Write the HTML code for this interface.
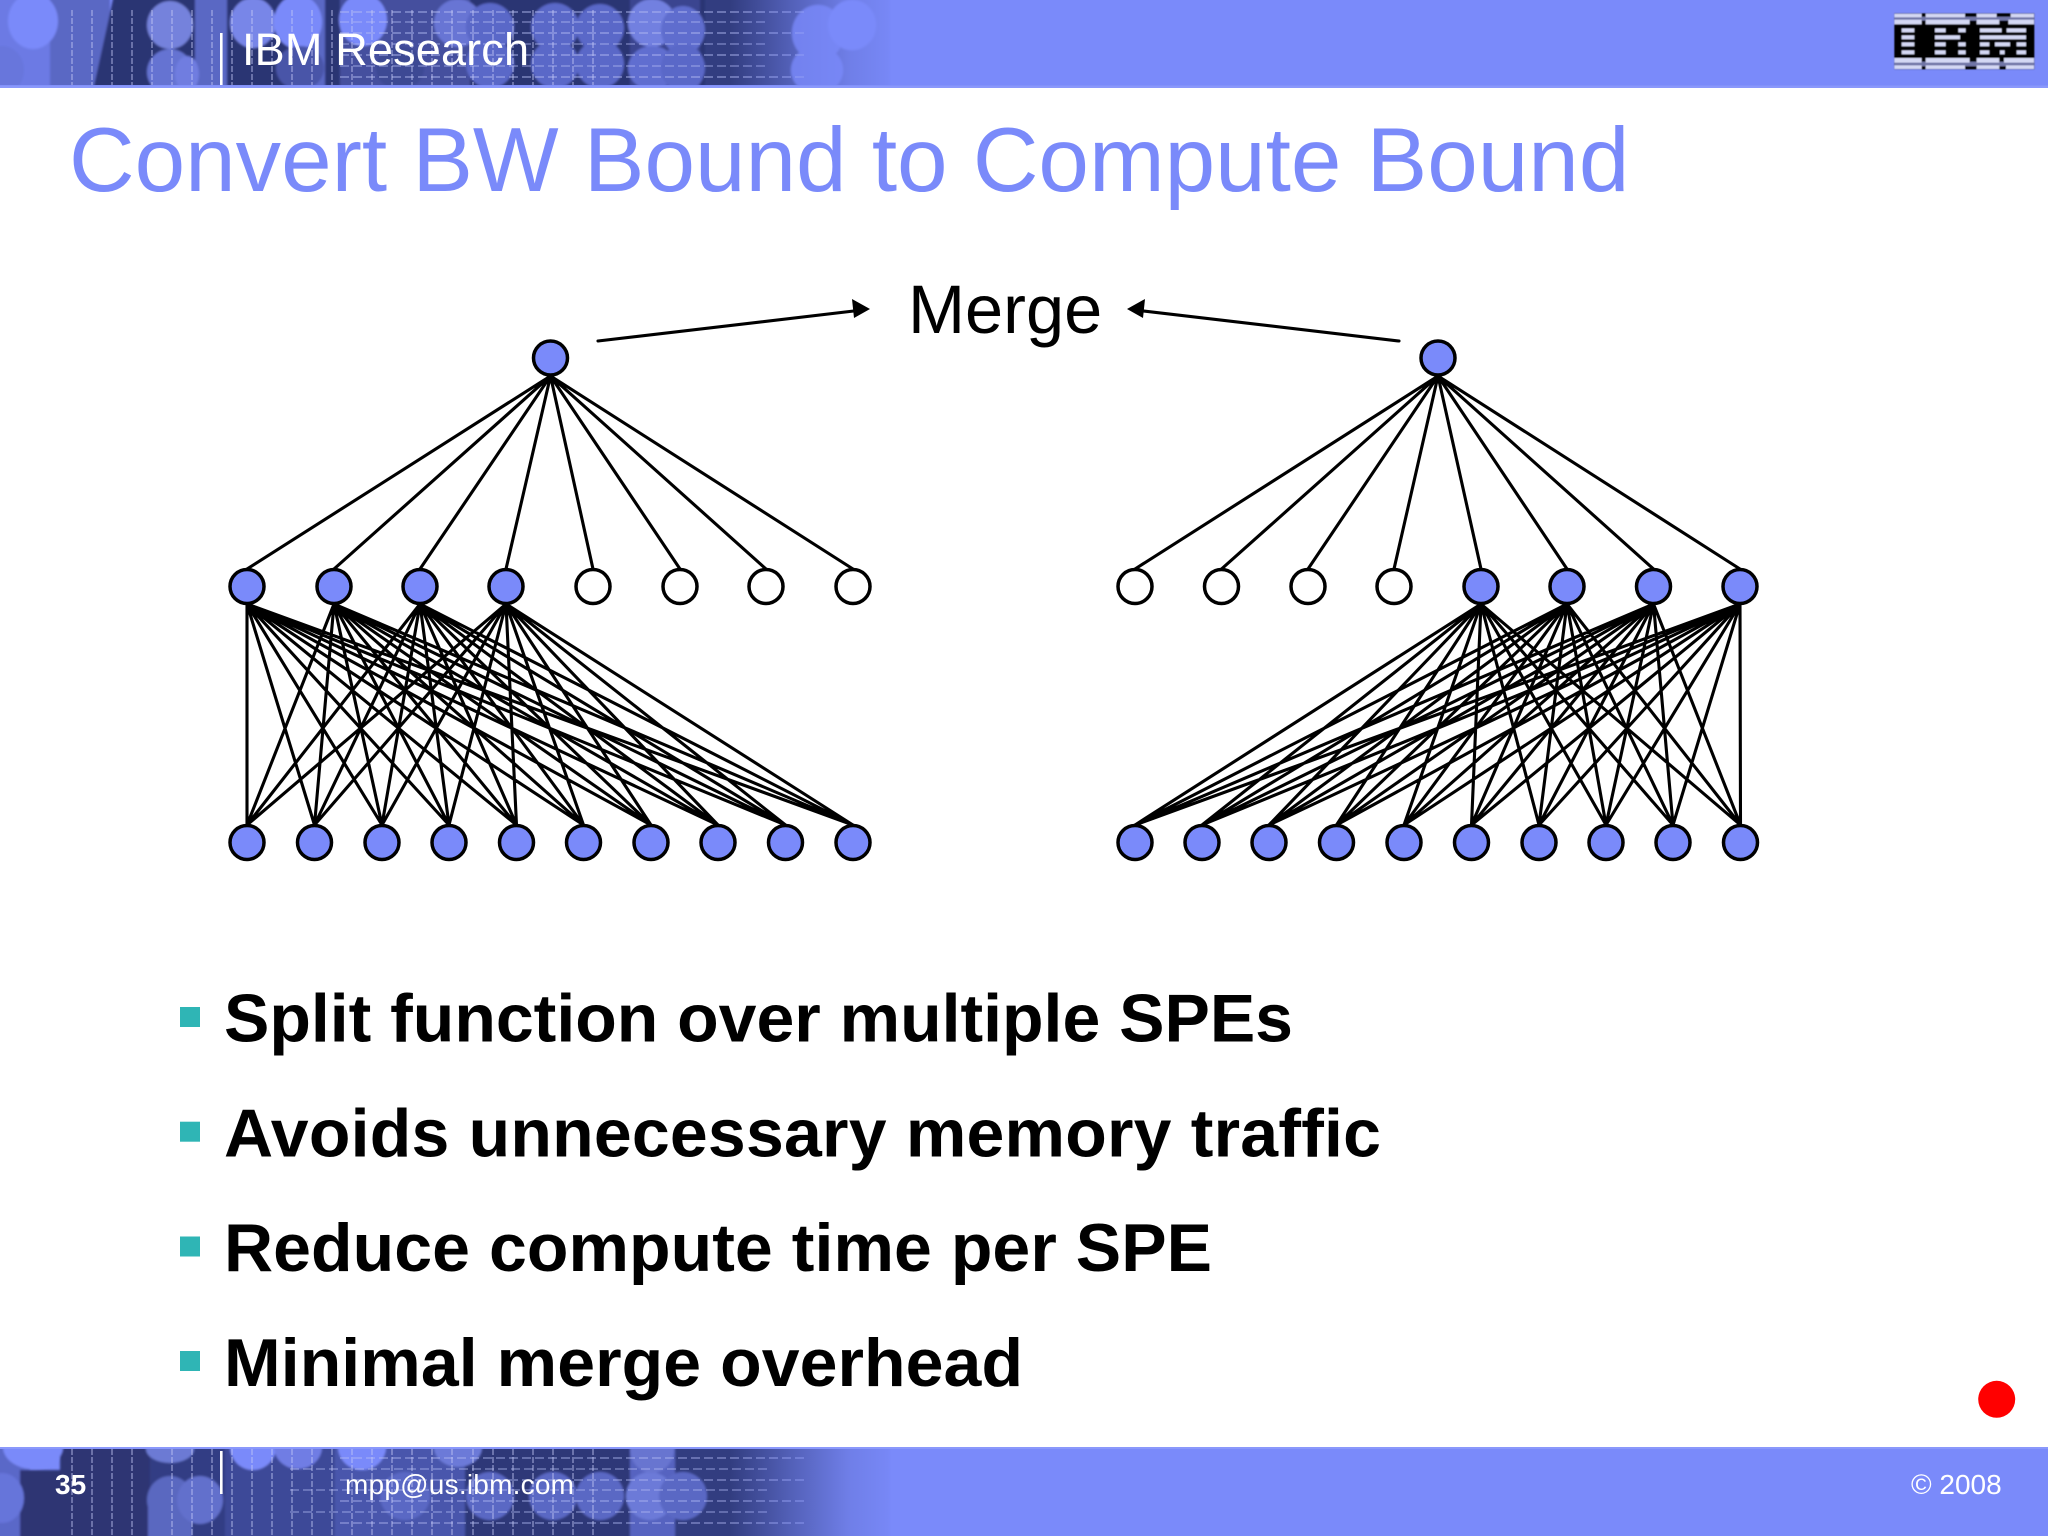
<!DOCTYPE html>
<html lang="en">
<head>
<meta charset="utf-8">
<title>Convert BW Bound to Compute Bound</title>
<style>
html,body{margin:0;padding:0;width:2048px;height:1536px;overflow:hidden;background:#fff}
svg{display:block}
text{font-family:"Liberation Sans",Arial,sans-serif}
.n{fill:#7a8afa;stroke:#000;stroke-width:3.5}
.o{fill:#fff;stroke:#000;stroke-width:3.5}
.e{fill:none;stroke:#000;stroke-width:3.1;stroke-linecap:round}
.b{font-size:68px;font-weight:bold;fill:#000}
.f{font-size:28px;fill:#fff}
</style>
</head>
<body>
<svg xmlns="http://www.w3.org/2000/svg" width="2048" height="1536" viewBox="0 0 2048 1536">
<defs>
<linearGradient id="fade" x1="0" x2="1" y1="0" y2="0">
<stop offset="0" stop-color="#7a8afa" stop-opacity="0"/>
<stop offset=".35" stop-color="#7a8afa" stop-opacity=".45"/>
<stop offset=".7" stop-color="#7a8afa" stop-opacity=".85"/>
<stop offset="1" stop-color="#7a8afa"/>
</linearGradient>
<clipPath id="hc"><rect x="0" y="0" width="2048" height="85"/></clipPath>
<clipPath id="fc"><rect x="0" y="1449" width="2048" height="87"/></clipPath>
<filter id="soft" x="-2%" y="-10%" width="104%" height="120%"><feGaussianBlur stdDeviation="1"/></filter>
<filter id="soft2" x="-5%" y="-5%" width="110%" height="110%"><feGaussianBlur stdDeviation="1.6"/></filter>
</defs>

<rect width="2048" height="1536" fill="#fff"/>

<!-- header band -->
<rect x="0" y="0" width="2048" height="88" fill="#7a8afa"/>
<g clip-path="url(#hc)">
<g filter="url(#soft)">
  <rect x="-10" y="-10" width="60" height="105" fill="#6c7ae4"/>
  <rect x="50" y="-10" width="60" height="105" fill="#5a68c4"/>
  <path d="M115 -10L155 -10L155 95L92 95Z" fill="#2b3473"/>
  <rect x="155" y="-10" width="735" height="105" fill="#2b3473"/>
  <rect x="195" y="-10" width="32" height="105" fill="#5a68c4"/>
  <rect x="290" y="-10" width="35" height="105" fill="#5a68c4"/>
  <rect x="340" y="-10" width="130" height="105" fill="#454f9e"/>
  <rect x="630" y="-10" width="70" height="105" fill="#3a4490"/>
  <rect x="705" y="-10" width="185" height="105" fill="#333c80"/>
  <ellipse cx="33" cy="21" rx="25" ry="28" fill="#7a8afa"/>
  <ellipse cx="2" cy="70" rx="22" ry="24" fill="#6876dc"/>
  <ellipse cx="170" cy="25" rx="23" ry="24" fill="#7482dc"/>
  <ellipse cx="170" cy="72" rx="23" ry="23" fill="#6573d2"/>
  <ellipse cx="187" cy="74" rx="12" ry="18" fill="#6f7de0"/>
  <ellipse cx="253" cy="23" rx="23" ry="25" fill="#7886e8"/>
  <ellipse cx="298" cy="22" rx="24" ry="27" fill="#7a8afa"/>
  <ellipse cx="363" cy="20" rx="24" ry="26" fill="#7a8afa"/>
  <ellipse cx="458" cy="23" rx="24" ry="24" fill="#6875d4"/>
  <ellipse cx="300" cy="68" rx="24" ry="22" fill="#4a55a8"/>
  <ellipse cx="400" cy="68" rx="24" ry="22" fill="#3e4894"/>
  <ellipse cx="490" cy="27" rx="24" ry="24" fill="#5a68c8"/>
  <ellipse cx="555" cy="27" rx="24" ry="24" fill="#5a68c8"/>
  <ellipse cx="600" cy="28" rx="24" ry="24" fill="#5a68c8"/>
  <ellipse cx="490" cy="64" rx="24" ry="24" fill="#5a68c8"/>
  <ellipse cx="555" cy="64" rx="24" ry="24" fill="#5a68c8"/>
  <ellipse cx="600" cy="64" rx="24" ry="24" fill="#5a68c8"/>
  <ellipse cx="652" cy="23" rx="24" ry="24" fill="#7280e0"/>
  <ellipse cx="683" cy="30" rx="22" ry="24" fill="#5f6dce"/>
  <ellipse cx="652" cy="68" rx="24" ry="22" fill="#606ed0"/>
  <ellipse cx="683" cy="68" rx="22" ry="24" fill="#5a68c8"/>
  <ellipse cx="818" cy="33" rx="26" ry="28" fill="#6c7ae4"/>
  <ellipse cx="817" cy="70" rx="26" ry="24" fill="#6c7ae4"/>
  <ellipse cx="852" cy="25" rx="24" ry="25" fill="#7a8afa"/>
</g>
  <path d="M340 12H808M340 33H808M340 55H808M340 77H808" stroke="#b4bcf4" stroke-width="1.6" stroke-dasharray="9 4" fill="none" opacity=".6"/>
  <path d="M340 22H767M340 44H767M340 66H767" stroke="#b4bcf4" stroke-width="1.6" stroke-dasharray="9 4" fill="none" opacity=".5"/>
  <path d="M72 10V85M92 10V85M112 10V85M132 10V85M152 10V85M172 10V85M192 10V85M212 10V85M232 10V85M252 10V85M272 10V85M292 10V85M312 10V85M332 10V85M352 10V85M372 10V85M392 10V85M412 10V85M432 10V85M452 10V85M473 10V85M493 10V85M513 10V85M533 10V85M553 10V85M573 10V85M593 10V85" stroke="#c4caf6" stroke-width="1.5" stroke-dasharray="6 2" fill="none" opacity=".55"/>
  <rect x="730" y="0" width="170" height="85" fill="url(#fade)"/>
</g>
<rect x="0" y="85.5" width="2048" height="2.5" fill="#8a98fb"/>
<rect x="220" y="33" width="2.6" height="52" fill="#fff"/>
<text x="242" y="65" font-size="45" fill="#fff" textLength="287" lengthAdjust="spacing">IBM Research</text>

<!-- IBM logo -->
<g transform="translate(1800 0) scale(.3333)" filter="url(#soft2)">
  <rect x="283" y="40" width="420" height="168" fill="#000"/>
  <rect x="283" y="50" width="420" height="12" fill="#6f74a6"/>
  <rect x="283" y="185" width="420" height="14" fill="#6f74a6"/>
  <g fill="#d4d8f4">
    <rect x="283" y="41" width="82" height="11"/><rect x="377" y="41" width="118" height="11"/><rect x="530" y="41" width="60" height="11"/><rect x="632" y="41" width="70" height="11"/>
    <rect x="283" y="59" width="82" height="14"/><rect x="377" y="59" width="132" height="14"/><rect x="530" y="59" width="68" height="14"/><rect x="625" y="59" width="77" height="14"/>
    <rect x="305" y="85" width="38" height="12"/><rect x="405" y="85" width="32" height="12"/><rect x="475" y="85" width="22" height="12"/><rect x="540" y="85" width="65" height="12"/><rect x="620" y="85" width="58" height="12"/>
    <rect x="305" y="106" width="38" height="12"/><rect x="405" y="106" width="75" height="12"/><rect x="540" y="106" width="138" height="12"/>
    <rect x="305" y="127" width="38" height="12"/><rect x="405" y="127" width="32" height="12"/><rect x="475" y="127" width="22" height="12"/><rect x="540" y="127" width="28" height="12"/><rect x="585" y="127" width="45" height="12"/><rect x="650" y="127" width="28" height="12"/>
    <rect x="305" y="151" width="38" height="12"/><rect x="405" y="151" width="32" height="12"/><rect x="475" y="151" width="22" height="12"/><rect x="540" y="151" width="28" height="12"/><rect x="600" y="151" width="14" height="12"/><rect x="650" y="151" width="28" height="12"/>
    <rect x="283" y="174" width="82" height="14"/><rect x="377" y="174" width="132" height="14"/><rect x="530" y="174" width="68" height="14"/><rect x="612" y="174" width="90" height="14"/>
    <rect x="283" y="196" width="82" height="11"/><rect x="377" y="196" width="118" height="11"/><rect x="530" y="196" width="68" height="11"/><rect x="618" y="196" width="84" height="11"/>
  </g>
</g>

<!-- title -->
<text x="69" y="191" font-size="90.85" fill="#7a8afa">Convert BW Bound to Compute Bound</text>

<!-- merge -->
<text x="908" y="333" font-size="68.5" fill="#000">Merge</text>
<path class="e" d="M598 341L858 310.500M1399 341L1139 310.500"/>
<path d="M870 309L852 299L854 318Z M1127 309L1145 299L1143 318Z" fill="#000"/>

<!-- left tree edges -->
<path class="e" d="M550.500 376L247 569M550.500 376L334 569M550.500 376L420 569M550.500 376L506 569M550.500 376L593 569M550.500 376L680 569M550.500 376L766 569M550.500 376L853 569"/>
<path class="e" d="M247 604L247 825M247 604L314.500 825M247 604L382 825M247 604L449 825M247 604L516.500 825M247 604L583.500 825M247 604L651 825M247 604L718 825M247 604L785.500 825M247 604L853 825
M334 604L247 825M334 604L314.500 825M334 604L382 825M334 604L449 825M334 604L516.500 825M334 604L583.500 825M334 604L651 825M334 604L718 825M334 604L785.500 825M334 604L853 825
M420 604L247 825M420 604L314.500 825M420 604L382 825M420 604L449 825M420 604L516.500 825M420 604L583.500 825M420 604L651 825M420 604L718 825M420 604L785.500 825M420 604L853 825
M506 604L247 825M506 604L314.500 825M506 604L382 825M506 604L449 825M506 604L516.500 825M506 604L583.500 825M506 604L651 825M506 604L718 825M506 604L785.500 825M506 604L853 825"/>

<!-- right tree edges -->
<path class="e" d="M1438 376L1135 569M1438 376L1221.500 569M1438 376L1308 569M1438 376L1394 569M1438 376L1481 569M1438 376L1567 569M1438 376L1653.500 569M1438 376L1740 569"/>
<path class="e" d="M1481 604L1135 825M1481 604L1202 825M1481 604L1269 825M1481 604L1336.500 825M1481 604L1404 825M1481 604L1471.500 825M1481 604L1539 825M1481 604L1606 825M1481 604L1673 825M1481 604L1740.500 825
M1567 604L1135 825M1567 604L1202 825M1567 604L1269 825M1567 604L1336.500 825M1567 604L1404 825M1567 604L1471.500 825M1567 604L1539 825M1567 604L1606 825M1567 604L1673 825M1567 604L1740.500 825
M1653.500 604L1135 825M1653.500 604L1202 825M1653.500 604L1269 825M1653.500 604L1336.500 825M1653.500 604L1404 825M1653.500 604L1471.500 825M1653.500 604L1539 825M1653.500 604L1606 825M1653.500 604L1673 825M1653.500 604L1740.500 825
M1740 604L1135 825M1740 604L1202 825M1740 604L1269 825M1740 604L1336.500 825M1740 604L1404 825M1740 604L1471.500 825M1740 604L1539 825M1740 604L1606 825M1740 604L1673 825M1740 604L1740.500 825"/>

<!-- nodes -->
<circle class="n" cx="550.500" cy="358" r="17"/>
<circle class="n" cx="1438" cy="358" r="17"/>
<g>
<circle class="n" cx="247" cy="586.500" r="17"/><circle class="n" cx="334" cy="586.500" r="17"/><circle class="n" cx="420" cy="586.500" r="17"/><circle class="n" cx="506" cy="586.500" r="17"/>
<circle class="o" cx="593" cy="586.500" r="17"/><circle class="o" cx="680" cy="586.500" r="17"/><circle class="o" cx="766" cy="586.500" r="17"/><circle class="o" cx="853" cy="586.500" r="17"/>
<circle class="o" cx="1135" cy="586.500" r="17"/><circle class="o" cx="1221.500" cy="586.500" r="17"/><circle class="o" cx="1308" cy="586.500" r="17"/><circle class="o" cx="1394" cy="586.500" r="17"/>
<circle class="n" cx="1481" cy="586.500" r="17"/><circle class="n" cx="1567" cy="586.500" r="17"/><circle class="n" cx="1653.500" cy="586.500" r="17"/><circle class="n" cx="1740" cy="586.500" r="17"/>
</g>
<g>
<circle class="n" cx="247" cy="842.500" r="17"/><circle class="n" cx="314.500" cy="842.500" r="17"/><circle class="n" cx="382" cy="842.500" r="17"/><circle class="n" cx="449" cy="842.500" r="17"/><circle class="n" cx="516.500" cy="842.500" r="17"/><circle class="n" cx="583.500" cy="842.500" r="17"/><circle class="n" cx="651" cy="842.500" r="17"/><circle class="n" cx="718" cy="842.500" r="17"/><circle class="n" cx="785.500" cy="842.500" r="17"/><circle class="n" cx="853" cy="842.500" r="17"/>
<circle class="n" cx="1135" cy="842.500" r="17"/><circle class="n" cx="1202" cy="842.500" r="17"/><circle class="n" cx="1269" cy="842.500" r="17"/><circle class="n" cx="1336.500" cy="842.500" r="17"/><circle class="n" cx="1404" cy="842.500" r="17"/><circle class="n" cx="1471.500" cy="842.500" r="17"/><circle class="n" cx="1539" cy="842.500" r="17"/><circle class="n" cx="1606" cy="842.500" r="17"/><circle class="n" cx="1673" cy="842.500" r="17"/><circle class="n" cx="1740.500" cy="842.500" r="17"/>
</g>

<!-- bullets -->
<rect x="180" y="1007" width="20" height="20" fill="#2fb5b5"/>
<rect x="180" y="1121.700" width="20" height="20" fill="#2fb5b5"/>
<rect x="180" y="1236.500" width="20" height="20" fill="#2fb5b5"/>
<rect x="180" y="1351" width="20" height="20" fill="#2fb5b5"/>
<text class="b" x="224" y="1041.500" textLength="1069" lengthAdjust="spacing">Split function over multiple SPEs</text>
<text class="b" x="224" y="1156.500" textLength="1157" lengthAdjust="spacing">Avoids unnecessary memory traffic</text>
<text class="b" x="224" y="1271" textLength="988" lengthAdjust="spacing">Reduce compute time per SPE</text>
<text class="b" x="224" y="1386" textLength="799" lengthAdjust="spacing">Minimal merge overhead</text>

<!-- red dot -->
<circle cx="1996.700" cy="1399.300" r="18.500" fill="#ff0000"/>

<!-- footer band -->
<rect x="0" y="1447" width="2048" height="89" fill="#7a8afa"/>
<g clip-path="url(#fc)">
<g filter="url(#soft)">
  <rect x="-10" y="1440" width="40" height="106" fill="#5a68c8"/>
  <rect x="20" y="1470" width="130" height="76" fill="#2d3673"/>
  <rect x="60" y="1440" width="95" height="106" fill="#2d3673"/>
  <rect x="150" y="1440" width="740" height="106" fill="#333c84"/>
  <rect x="225" y="1440" width="110" height="106" fill="#3d4898"/>
  <rect x="335" y="1440" width="130" height="106" fill="#4a56ac"/>
  <rect x="465" y="1440" width="170" height="106" fill="#2f3878"/>
  <rect x="630" y="1440" width="50" height="106" fill="#5663c0"/>
  <rect x="675" y="1440" width="215" height="106" fill="#333c80"/>
  <ellipse cx="33" cy="1447" rx="30" ry="22" fill="#7a8afa"/>
  <ellipse cx="2" cy="1498" rx="22" ry="25" fill="#6674da"/>
  <rect x="148" y="1500" width="44" height="46" fill="#5a68c0"/>
  <ellipse cx="170" cy="1500" rx="23" ry="24" fill="#5a68c0"/>
  <ellipse cx="200" cy="1500" rx="23" ry="24" fill="#6270cc"/>
  <ellipse cx="170" cy="1449" rx="24" ry="14" fill="#6c7ad4"/>
  <ellipse cx="253" cy="1447" rx="23" ry="23" fill="#7a8afa"/>
  <ellipse cx="298" cy="1447" rx="24" ry="22" fill="#6f7de4"/>
  <ellipse cx="362" cy="1447" rx="24" ry="23" fill="#7a8afa"/>
  <ellipse cx="458" cy="1447" rx="24" ry="20" fill="#6c7ad8"/>
  <ellipse cx="405" cy="1496" rx="25" ry="24" fill="#5a68c4"/>
  <ellipse cx="490" cy="1496" rx="24" ry="24" fill="#5a68c4"/>
  <ellipse cx="553" cy="1496" rx="24" ry="24" fill="#5a68c4"/>
  <ellipse cx="600" cy="1496" rx="24" ry="24" fill="#5a68c4"/>
  <ellipse cx="650" cy="1496" rx="24" ry="24" fill="#6c7ad8"/>
  <ellipse cx="683" cy="1496" rx="24" ry="24" fill="#5a68c4"/>
  <ellipse cx="652" cy="1449" rx="22" ry="24" fill="#6875d0"/>
</g>
  <path d="M340 1458H808M340 1480H808M340 1501H808M340 1523H808" stroke="#b4bcf4" stroke-width="1.6" stroke-dasharray="9 4" fill="none" opacity=".55"/>
  <path d="M290 1469H767M290 1490H767M290 1512H767" stroke="#b4bcf4" stroke-width="1.6" stroke-dasharray="9 4" fill="none" opacity=".5"/>
  <path d="M72 1449V1536M92 1449V1536M112 1449V1536M132 1449V1536M172 1449V1536M192 1449V1536M212 1449V1536M232 1449V1536M252 1449V1536M272 1449V1536M292 1449V1536M312 1449V1536M332 1449V1536M352 1449V1536M372 1449V1536M392 1449V1536M412 1449V1536M432 1449V1536M452 1449V1536M473 1449V1536M493 1449V1536M513 1449V1536M533 1449V1536M553 1449V1536M573 1449V1536M593 1449V1536" stroke="#c4caf6" stroke-width="1.5" stroke-dasharray="6 2" fill="none" opacity=".55"/>
  <rect x="730" y="1449" width="170" height="87" fill="url(#fade)"/>
</g>
<rect x="0" y="1447" width="2048" height="2" fill="#8a98fb"/>
<rect x="220" y="1451" width="2.6" height="43" fill="#fff"/>
<text class="f" x="55" y="1494" font-weight="bold">35</text>
<text class="f" x="345" y="1494" textLength="229" lengthAdjust="spacing">mpp@us.ibm.com</text>
<text class="f" x="1911" y="1494">© 2008</text>
</svg>
</body>
</html>
